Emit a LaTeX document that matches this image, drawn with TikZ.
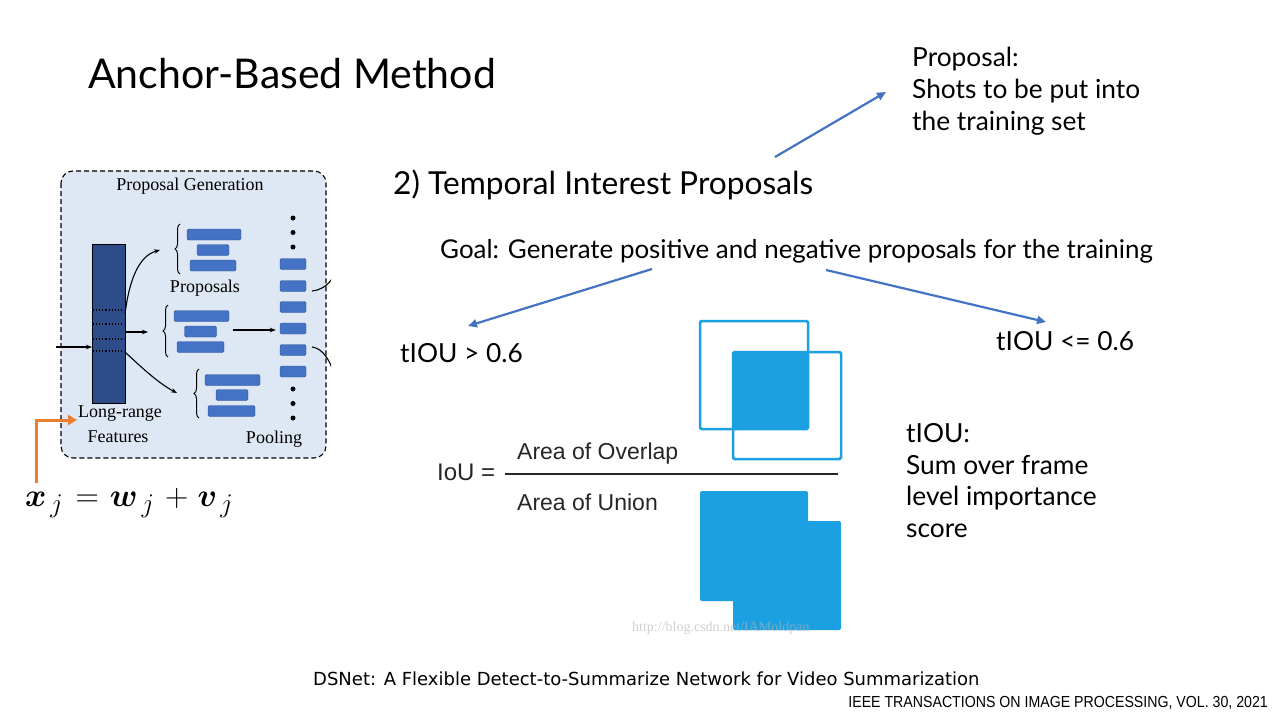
\documentclass[tikz,border=0pt]{standalone}
\usepackage{amsmath}
\usepackage{graphicx}
\usepackage{fontspec}
\setmainfont{Lato}
\newfontfamily\panelfont{Liberation Serif}
\newfontfamily\iouFont{Liberation Sans}
\newfontfamily\citeFont{DejaVu Sans}
\newfontfamily\journalFont[FakeStretch=0.885]{Liberation Sans}
\usetikzlibrary{arrows.meta,decorations.pathreplacing}

\definecolor{slideblue}{HTML}{4472C4}
\definecolor{panelfill}{HTML}{DEE8F4}
\definecolor{barblue}{HTML}{4472C4}
\definecolor{baredge}{HTML}{2F5597}
\definecolor{colnavy}{HTML}{2E4C8A}
\definecolor{ioublue}{HTML}{1BA1E2}
\definecolor{accent}{HTML}{ED7D31}

\tikzset{
  slidetext/.style={anchor=base west, inner sep=0pt, font=\fontsize{26.3}{32}\selectfont, align=left},
  slidearrow/.style={draw=slideblue, line width=2.2pt, -{Triangle[length=9pt,width=8pt]}},
  panelarrow/.style={draw=black, line width=1.1pt, -{Stealth[length=6pt,width=4.5pt]}},
  bar/.style={fill=barblue, draw=baredge, line width=0.4pt, rounded corners=1.5pt,
              minimum height=11pt, inner sep=0pt},
  panellabel/.style={inner sep=0pt, font=\panelfont\fontsize{18}{21}\selectfont, align=center},
  dotmark/.style={fill=black, circle, inner sep=0pt, minimum size=5pt},
  brace/.style={decorate, decoration={brace, amplitude=5pt}, line width=1pt},
  iouline/.style={draw=ioublue, line width=2.5pt, rounded corners=1.5pt},
}

\begin{document}
\begin{tikzpicture}[x=1pt, y=-1pt]
\useasboundingbox (0,0) rectangle (1280,720);
\fill[white] (0,0) rectangle (1280,720);

% ---------- title and headings ----------
\node[anchor=base west, inner sep=0pt, font=\fontsize{41}{46}\selectfont] (title) at (88,88) {Anchor-Based Method};
\node[anchor=base west, inner sep=0pt, font=\fontsize{31.7}{36}\selectfont] (tip) at (393,194) {2) Temporal Interest Proposals};

\node[slidetext] (prop1) at (912,66) {Proposal:};
\node[slidetext] (prop2) at (912,98) {Shots to be put into};
\node[slidetext] (prop3) at (912,130) {the training set};

\node[slidetext, font=\fontsize{25.9}{30}\selectfont] (goal) at (440,258) {Goal: Generate positive and negative proposals for the training};

\node[slidetext] (pos) at (400,362) {tIOU > 0.6};
\node[slidetext] (neg) at (996,350) {tIOU <= 0.6};

\node[slidetext] (t1) at (906,442) {tIOU:};
\node[slidetext] (t2) at (906,474) {Sum over frame};
\node[slidetext] (t3) at (906,505) {level importance};
\node[slidetext] (t4) at (906,537) {score};

% ---------- slide arrows ----------
\coordinate (aS) at (775,157);
\coordinate (aE) at (886,92);
\draw[slidearrow] (aS) -- (aE);
\coordinate (gL) at (652,269);
\coordinate (pL) at (468,326);
\draw[slidearrow] (gL) -- (pL);
\coordinate (gR) at (826,270);
\coordinate (pR) at (1046,322);
\draw[slidearrow] (gR) -- (pR);

% ---------- IoU illustration ----------
\fill[ioublue] (733,352) rectangle (808,429);
\draw[iouline] (700,321) rectangle (808,429);
\draw[iouline] (733,352) rectangle (841,459);

\node[anchor=base west, inner sep=0pt, font=\iouFont\fontsize{24}{28}\selectfont, text=black!85] (ioulbl) at (437,480) {IoU =};
\node[anchor=base west, inner sep=0pt, font=\iouFont\fontsize{23}{28}\selectfont, text=black!85] (overlap) at (517,459) {Area of Overlap};
\node[anchor=base west, inner sep=0pt, font=\iouFont\fontsize{23}{28}\selectfont, text=black!85] (union) at (517,510) {Area of Union};
\coordinate (fracL) at (505,474);
\coordinate (fracR) at (838,474);
\draw[line width=1.6pt, black!85] (fracL) -- (fracR);

\fill[ioublue, rounded corners=2pt] (700,491) rectangle (808,601);
\fill[ioublue, rounded corners=2pt] (733,521) rectangle (841,630);

\node[anchor=base west, inner sep=0pt, font=\panelfont\fontsize{14}{16}\selectfont, text=gray!60, opacity=0.6] (wm) at (632,631) {http://blog.csdn.net/IAMoldpan};

% ---------- proposal generation panel ----------
\begin{scope}
\clip (0,160) rectangle (331,470);
\draw[fill=panelfill, line width=1.1pt, dash pattern=on 5pt off 3pt, rounded corners=12pt] (61,171) rectangle (326,458);

\node[panellabel] (pg) at (190,186) {Proposal Generation};

% long-range feature column
\node[fill=colnavy, draw=black, line width=1.2pt, minimum width=33pt, minimum height=159pt, inner sep=0pt, anchor=north west] (col) at (92,244) {};
\foreach \yy in {310,324,339,351}
  \draw[black, line width=1.1pt, dotted] (93,\yy) -- (124,\yy);

\node[panellabel] (lr1) at (120,414) {Long-range};
\node[panellabel] (lr2) at (118,437) {Features};

% input into the column
\coordinate (inp) at (56,347);
\draw[panelarrow] (inp) -- (inp -| col.west);

% proposal groups
\node[bar, minimum width=54pt] (a1) at (214,234.5) {};
\node[bar, minimum width=32pt] (a2) at (213,250) {};
\node[bar, minimum width=46pt] (a3) at (213,265.5) {};
\draw[brace] (180,274) -- (180,224);
\node[panellabel] (propl) at (205,288) {Proposals};

\node[bar, minimum width=55pt] (b1) at (201.5,316) {};
\node[bar, minimum width=32pt] (b2) at (200.5,331.5) {};
\node[bar, minimum width=47pt] (b3) at (200.5,347) {};
\draw[brace] (168,357) -- (168,305);

\node[bar, minimum width=55pt] (c1) at (232.5,380) {};
\node[bar, minimum width=32pt] (c2) at (232,395) {};
\node[bar, minimum width=47pt] (c3) at (231.5,411) {};
\draw[brace] (199,418) -- (199,369);

% arrows from the column to the groups
\coordinate (colA) at (125,314);
\coordinate (grpA) at (160,250);
\draw[panelarrow] (colA) .. controls (129,282) and (138,256) .. (grpA);
\coordinate (colB) at (125,332);
\coordinate (grpB) at (148,332);
\draw[panelarrow] (colB) -- (grpB);
\coordinate (colC) at (125,352);
\coordinate (grpC) at (177,393);
\draw[panelarrow] (colC) .. controls (140,366) and (158,383) .. (grpC);

% pooling column
\foreach \i/\yy in {1/264,2/286,3/307,4/328.5,5/350,6/371.5}
  \node[bar, minimum width=26pt] (p\i) at (293,\yy) {};
\foreach \i/\yy in {1/218,2/232.5,3/247,4/389,5/403.5,6/418}
  \node[dotmark] (d\i) at (293,\yy) {};
\node[panellabel] (pool) at (274,439) {Pooling};

\coordinate (grpOut) at (233,330);
\draw[panelarrow] (grpOut) -- ([xshift=-4pt]p4.west |- grpOut);

% outgoing connectors leaving the panel
\coordinate (poolA) at (312,291);
\coordinate (poolB) at (312,347);
\draw[line width=1.1pt] (poolA) .. controls (320,290) and (326,287) .. (332,279);
\draw[line width=1.1pt] (poolB) .. controls (320,348) and (327,355) .. (332,368);
\end{scope}

% ---------- feature decomposition ----------
\node[anchor=base west, inner sep=0pt, font=\fontsize{24.88}{30}\selectfont] (eq) at (25,506)
  {\scalebox{1.3}{$\boldsymbol{x}_{\hspace{3pt}j}\hspace{2.5pt}=\hspace{1.5pt}\boldsymbol{w}_{\hspace{3pt}j}\hspace{2.5pt}+\hspace{1.5pt}\boldsymbol{v}_{\hspace{2.5pt}j}$}};
\coordinate (eqTop) at (36,483);
\coordinate (lrIn) at (77,420);
\draw[accent, line width=3pt, -{Triangle[length=9pt,width=10pt]}] (eqTop) |- (lrIn);

% ---------- reference ----------
\node[anchor=base west, inner sep=0pt, font=\citeFont\fontsize{18}{22}\selectfont] (cite) at (313,685)
  {DSNet: A Flexible Detect-to-Summarize Network for Video Summarization};
\node[anchor=base east, inner sep=0pt, font=\journalFont\fontsize{16}{18}\selectfont] (journal) at (1268,707)
  {IEEE TRANSACTIONS ON IMAGE PROCESSING, VOL. 30, 2021};
\end{tikzpicture}
\end{document}
